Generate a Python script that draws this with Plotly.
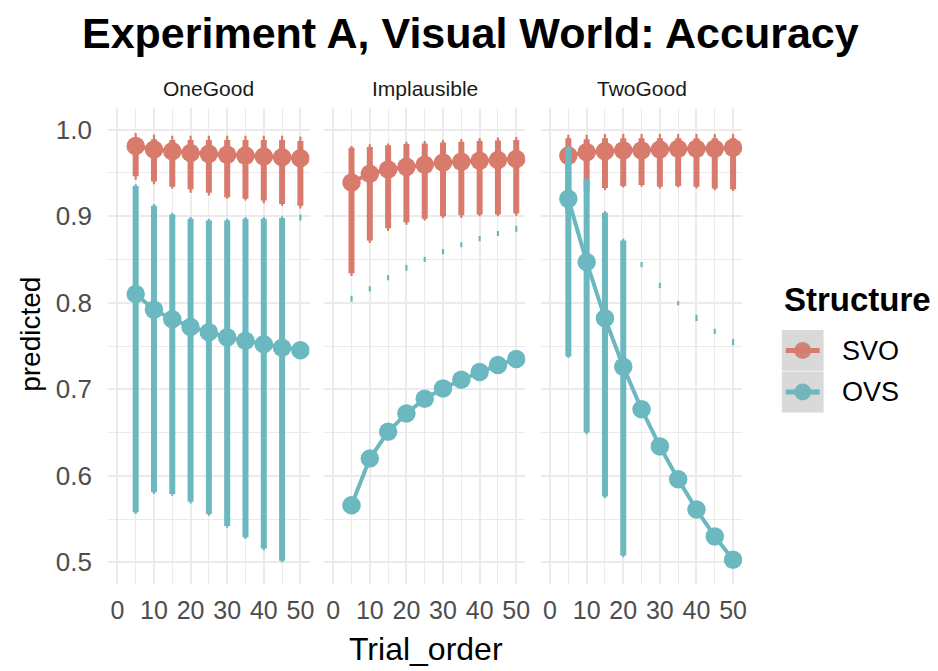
import plotly.graph_objects as go

# ---- data -------------------------------------------------------------
trial_order = [5, 10, 15, 20, 25, 30, 35, 40, 45, 50]
facets = ["OneGood", "Implausible", "TwoGood"]
structures = ["SVO", "OVS"]
x_ticks = [0, 10, 20, 30, 40, 50]
y_ticks = [0.5, 0.6, 0.7, 0.8, 0.9, 1.0]

# OneGood
onegood_svo_est = [0.981, 0.977, 0.975, 0.973, 0.972, 0.971, 0.970, 0.969, 0.968, 0.967]
onegood_svo_hi66 = [0.990, 0.989, 0.988, 0.988, 0.988, 0.988, 0.988, 0.988, 0.988, 0.987]
onegood_svo_lo66 = [0.946, 0.940, 0.934, 0.931, 0.927, 0.922, 0.920, 0.918, 0.914, 0.912]
onegood_svo_hi95 = [0.996, 0.994, 0.993, 0.993, 0.993, 0.993, 0.993, 0.993, 0.993, 0.992]
onegood_svo_lo95 = [0.942, 0.937, 0.932, 0.927, 0.924, 0.920, 0.918, 0.915, 0.912, 0.909]

onegood_ovs_est = [0.810, 0.792, 0.781, 0.772, 0.766, 0.760, 0.756, 0.752, 0.748, 0.745]
onegood_ovs_hi66 = [0.935, 0.912, 0.902, 0.897, 0.895, 0.895, 0.897, 0.897, 0.898, None]
onegood_ovs_lo66 = [0.558, 0.581, 0.579, 0.570, 0.556, 0.542, 0.529, 0.516, 0.502, None]
onegood_ovs_hi95 = [0.937, 0.914, 0.904, 0.899, 0.897, 0.897, 0.899, 0.899, 0.900, 0.902]
onegood_ovs_lo95 = [0.556, 0.579, 0.577, 0.568, 0.554, 0.540, 0.527, 0.514, 0.500, 0.895]

# Implausible
implausible_svo_est = [0.939, 0.949, 0.954, 0.957, 0.9595, 0.962, 0.963, 0.964, 0.965, 0.966]
implausible_svo_hi66 = [0.979, 0.980, 0.982, 0.9835, 0.984, 0.985, 0.986, 0.987, 0.9875, 0.988]
implausible_svo_lo66 = [0.834, 0.872, 0.886, 0.893, 0.897, 0.900, 0.901, 0.902, 0.902, 0.903]
implausible_svo_hi95 = [0.981, 0.983, 0.984, 0.986, 0.987, 0.988, 0.989, 0.990, 0.991, 0.9915]
implausible_svo_lo95 = [0.831, 0.869, 0.883, 0.890, 0.895, 0.898, 0.898, 0.900, 0.900, 0.9005]

implausible_ovs_est = [0.566, 0.620, 0.651, 0.672, 0.689, 0.701, 0.711, 0.720, 0.728, 0.735]
implausible_ovs_hi66 = [None] * 10
implausible_ovs_lo66 = [None] * 10
implausible_ovs_hi95 = [0.808, 0.819, 0.832, 0.844, 0.853, 0.862, 0.870, 0.877, 0.883, 0.889]
implausible_ovs_lo95 = [0.801, 0.813, 0.826, 0.837, 0.847, 0.856, 0.864, 0.871, 0.877, 0.882]

# TwoGood
twogood_svo_est = [0.970, 0.974, 0.975, 0.976, 0.976, 0.977, 0.978, 0.978, 0.978, 0.979]
twogood_svo_hi66 = [0.990, 0.989, 0.990, 0.990, 0.990, 0.990, 0.990, 0.990, 0.990, 0.990]
twogood_svo_lo66 = [0.9035, 0.929, 0.9325, 0.935, 0.936, 0.934, 0.935, 0.934, 0.932, 0.931]
twogood_svo_hi95 = [0.994, 0.994, 0.995, 0.995, 0.995, 0.995, 0.995, 0.995, 0.995, 0.995]
twogood_svo_lo95 = [0.900, 0.927, 0.930, 0.933, 0.934, 0.932, 0.933, 0.932, 0.930, 0.929]

twogood_ovs_est = [0.920, 0.847, 0.782, 0.726, 0.677, 0.634, 0.596, 0.561, 0.530, 0.503]
twogood_ovs_hi66 = [0.979, 0.942, 0.904, 0.872, None, None, None, None, None, None]
twogood_ovs_lo66 = [0.738, 0.650, 0.576, 0.508, None, None, None, None, None, None]
twogood_ovs_hi95 = [0.981, 0.944, 0.906, 0.874, 0.847, 0.823, 0.802, 0.786, 0.770, 0.758]
twogood_ovs_lo95 = [0.736, 0.648, 0.574, 0.506, 0.841, 0.817, 0.797, 0.779, 0.764, 0.751]

series = {
    ("OneGood", "SVO"): (onegood_svo_est, onegood_svo_lo66, onegood_svo_hi66, onegood_svo_lo95, onegood_svo_hi95),
    ("OneGood", "OVS"): (onegood_ovs_est, onegood_ovs_lo66, onegood_ovs_hi66, onegood_ovs_lo95, onegood_ovs_hi95),
    ("Implausible", "SVO"): (implausible_svo_est, implausible_svo_lo66, implausible_svo_hi66, implausible_svo_lo95, implausible_svo_hi95),
    ("Implausible", "OVS"): (implausible_ovs_est, implausible_ovs_lo66, implausible_ovs_hi66, implausible_ovs_lo95, implausible_ovs_hi95),
    ("TwoGood", "SVO"): (twogood_svo_est, twogood_svo_lo66, twogood_svo_hi66, twogood_svo_lo95, twogood_svo_hi95),
    ("TwoGood", "OVS"): (twogood_ovs_est, twogood_ovs_lo66, twogood_ovs_hi66, twogood_ovs_lo95, twogood_ovs_hi95),
}

colors = {"SVO": "#D87B6C", "OVS": "#6CB8C0"}
key_colors = {"SVO": "#CC8579", "OVS": "#7AB3B9"}

# ---- geometry helpers (pixel -> paper) -------------------------------
W, H = 938, 671
def px(x):
    return x / W
def py(y):
    return 1 - y / H

panel_x = [(108.8, 311.2), (325.8, 528.2), (543.8, 746.2)]
panel_top, panel_bottom = 108, 584

FONT = "Liberation Sans, Arial, sans-serif"
GRID = "#EBEBEB"


def segments(xs, lo, hi):
    sx, sy = [], []
    for x, l, h in zip(xs, lo, hi):
        if l is None or h is None:
            continue
        sx += [x, x, None]
        sy += [l, h, None]
    return sx, sy


fig = go.Figure()

for i, facet in enumerate(facets):
    xa = "x" if i == 0 else f"x{i + 1}"
    ya = "y" if i == 0 else f"y{i + 1}"
    for s in structures:
        est, lo66, hi66, lo95, hi95 = series[(facet, s)]
        c = colors[s]
        tx, ty = segments(trial_order, lo95, hi95)
        fig.add_trace(go.Scatter(x=tx, y=ty, mode="lines", xaxis=xa, yaxis=ya,
                                 line=dict(color=c, width=2.2), hoverinfo="skip"))
        tx, ty = segments(trial_order, lo66, hi66)
        fig.add_trace(go.Scatter(x=tx, y=ty, mode="lines", xaxis=xa, yaxis=ya,
                                 line=dict(color=c, width=6), hoverinfo="skip"))
        fig.add_trace(go.Scatter(x=trial_order, y=est, mode="lines+markers", xaxis=xa, yaxis=ya,
                                 name=s, line=dict(color=c, width=4),
                                 marker=dict(color=c, size=18.5)))

layout = dict(
    width=W, height=H,
    margin=dict(l=0, r=0, t=0, b=0),
    paper_bgcolor="white", plot_bgcolor="white",
    showlegend=False,
    font=dict(family=FONT),
)

for i in range(3):
    xk = "xaxis" if i == 0 else f"xaxis{i + 1}"
    yk = "yaxis" if i == 0 else f"yaxis{i + 1}"
    layout[xk] = dict(
        domain=[px(panel_x[i][0]), px(panel_x[i][1])],
        anchor="y" if i == 0 else f"y{i + 1}",
        range=[-2.5, 52.5],
        tickvals=x_ticks, ticktext=[str(v) for v in x_ticks],
        showgrid=True, gridcolor=GRID, gridwidth=1.6,
        minor=dict(dtick=5, tick0=0, showgrid=True, gridcolor=GRID, gridwidth=1.2),
        zeroline=False, showline=False,
        ticks="outside", ticklen=4, tickcolor="rgba(0,0,0,0)",
        tickfont=dict(size=25, color="#4D4D4D", family=FONT),
        tickangle=0,
        fixedrange=True,
    )
    layout[yk] = dict(
        domain=[py(panel_bottom), py(panel_top)],
        anchor="x" if i == 0 else f"x{i + 1}",
        range=[0.475, 1.025],
        tickvals=y_ticks, ticktext=[f"{v:.1f}" for v in y_ticks],
        showticklabels=(i == 0),
        showgrid=True, gridcolor=GRID, gridwidth=1.6,
        minor=dict(dtick=0.05, tick0=0.5, showgrid=True, gridcolor=GRID, gridwidth=1.2),
        zeroline=False, showline=False,
        ticks="outside", ticklen=10, tickcolor="rgba(0,0,0,0)",
        tickfont=dict(size=26, color="#4D4D4D", family=FONT),
        fixedrange=True,
    )

annotations = [
    dict(text="<b>Experiment A, Visual World: Accuracy</b>", x=px(473), y=py(33),
         font=dict(size=43, color="black", family=FONT)),
    dict(text="predicted", x=px(30), y=py(334), textangle=-90,
         font=dict(size=28, color="black", family=FONT)),
    dict(text="Trial_order", x=px(428), y=py(649),
         font=dict(size=32, color="black", family=FONT)),
    dict(text="<b>Structure</b>", x=px(786), y=py(299), xanchor="left",
         font=dict(size=33, color="black", family=FONT)),
]
for i, facet in enumerate(facets):
    annotations.append(dict(text=facet, x=px(sum(panel_x[i]) / 2), y=py(88),
                            font=dict(size=21, color="#1A1A1A", family=FONT)))

# legend drawn from shapes: grey key boxes with line + point glyphs
shapes = []
key_left, key_right = 786, 828
key_tops = [330, 371.5]
for s, top in zip(structures, key_tops):
    bottom = top + 41
    cy = (top + bottom) / 2
    shapes.append(dict(type="rect", xref="paper", yref="paper",
                       x0=px(key_left), x1=px(key_right), y0=py(bottom), y1=py(top),
                       fillcolor="#D9D9D9", line=dict(width=0), layer="above"))
    shapes.append(dict(type="circle", xref="paper", yref="paper",
                       x0=px(807 - 8.5), x1=px(807 + 8.5), y0=py(cy + 8.5), y1=py(cy - 8.5),
                       fillcolor=key_colors[s], line=dict(width=0), layer="above"))
    shapes.append(dict(type="line", xref="paper", yref="paper",
                       x0=px(790), x1=px(824), y0=py(cy), y1=py(cy),
                       line=dict(color=colors[s], width=5), layer="above"))
    annotations.append(dict(text=s, x=px(845), y=py(cy), xanchor="left",
                            font=dict(size=27, color="black", family=FONT)))
shapes.append(dict(type="line", xref="paper", yref="paper",
                   x0=px(key_left), x1=px(key_right), y0=py(371), y1=py(371),
                   line=dict(color="#ECECEC", width=1), layer="above"))

for a in annotations:
    a.setdefault("xref", "paper")
    a.setdefault("yref", "paper")
    a.setdefault("showarrow", False)
    a.setdefault("xanchor", "center")
    a.setdefault("yanchor", "middle")

layout["annotations"] = annotations
layout["shapes"] = shapes
fig.update_layout(**layout)

fig.write_html("out.html")
